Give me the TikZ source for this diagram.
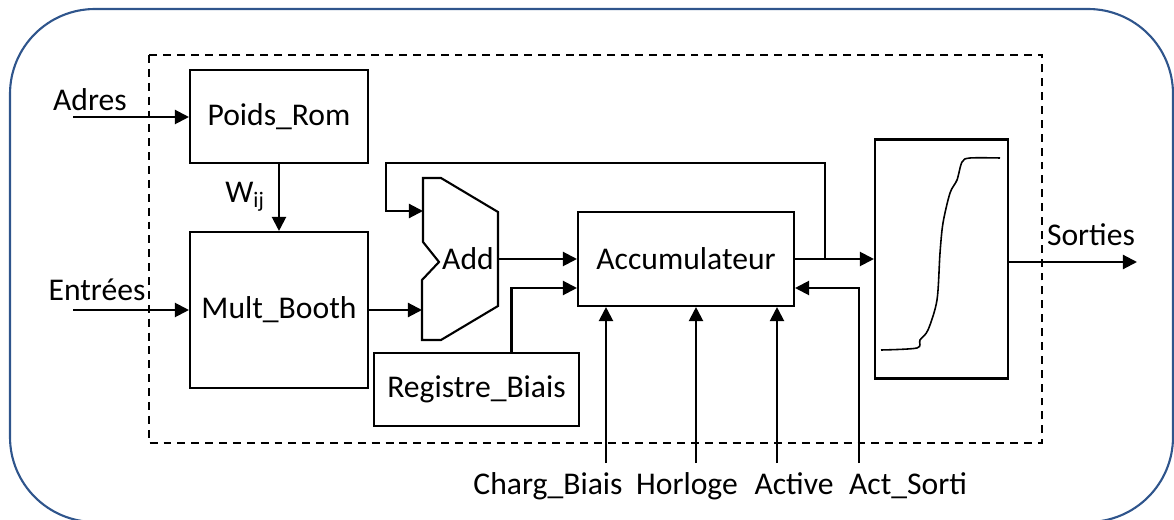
\documentclass[tikz,border=0pt]{standalone}
\usepackage{fontspec}
\setmainfont{Carlito}
\usetikzlibrary{arrows.meta}
\usetikzlibrary{calc,positioning}

\definecolor{framecol}{RGB}{47,85,140}

\begin{document}
\begin{tikzpicture}[x=0.02cm, y=-0.02cm, >={Triangle[length=8pt,width=8pt]},
    every node/.style={font=\fontsize{18}{21}\selectfont},
    blk/.style={draw, line width=1.2pt, inner sep=0pt},
    wire/.style={line width=1.2pt},
    sigline/.style={anchor=base}]

    \useasboundingbox (0,0) rectangle (1174,520);

    % outer frame and neuron boundary
    \draw[framecol, line width=1.2pt, rounded corners=1.7cm] (10,9) rectangle (1173,522);
    \draw[dashed, line width=1pt, dash pattern=on 4.5pt off 3.4pt] (149,55) rectangle (1042,443);

    % blocks
    \node[blk, minimum width=3.56cm, minimum height=1.86cm] (rom) at (279,116.5) {Poids\_Rom};
    \node[blk, minimum width=3.56cm, minimum height=3.12cm] (mult) at (279,310) {Mult\_Booth};
    \node[blk, minimum width=4.1cm, minimum height=1.46cm] (biais) at (476.5,389.5) {Registre\_Biais};
    \node[blk, minimum width=4.32cm, minimum height=1.88cm] (acc) at (686,259) {Accumulateur};
    \node[blk, minimum width=2.66cm, minimum height=4.78cm] (sig) at (941.5,259) {};

    % adder
    \draw[wire, line join=miter] (423,178) -- (441,178) -- (498,212) -- (498,306) -- (441,340) -- (422,340)
        -- (422,280) -- (439,262) -- (423,242) -- cycle;
    \node (add) at (468,259) {Add};
    \coordinate (addin1) at (423,211);
    \coordinate (addin2) at (422,310);
    \coordinate (addout) at (498,259);

    % activation curve
    \draw[line width=0.9pt] plot[smooth] coordinates {(881,350) (917,348) (920,340) (928,330) (937,300)
        (940,253) (943,223) (950,193) (957,180) (962,162) (970,158) (1000,158)};

    % inputs and outputs
    \coordinate (adres) at (73,117);
    \coordinate (entr) at (73,310);
    \coordinate (loop) at (386,163);
    \coordinate (fb) at (825,259);
    \coordinate (out) at (1137,262);
    \coordinate (cb) at (606,463);
    \coordinate (hor) at (696,463);
    \coordinate (act) at (777,463);
    \coordinate (acs) at (859,463);

    \node (adreslbl) at (90,100) {Adres};
    \node (entrlbl) at (97,290) {Entrées};
    \node (wlbl) at (245,197) {W\textsubscript{ij}};
    \node (outlbl) at (1091,235) {Sorties};
    \node[sigline] (cblbl) at (548,494) {Charg\_Biais};
    \node[sigline] (horlbl) at (687,494) {Horloge};
    \node[sigline] (actlbl) at (794,494) {Active};
    \node[sigline] (acslbl) at (908,494) {Act\_Sorti};

    \draw[wire, ->] (adres) -- (adres -| rom.west);
    \draw[wire, ->] (rom) -- (mult);
    \draw[wire, ->] (entr) -- (entr -| mult.west);
    \draw[wire, ->] (mult.east) -- (addin2);
    \draw[wire, ->] (fb) |- (loop) |- (addin1);
    \draw[wire, ->] (addout) -- (addout -| acc.west);
    \draw[wire, ->] ($(biais.north)+(35,0)$) |- ($(acc.west)+(0,29)$);
    \draw[wire, ->] (acc.east) -- (sig.west);
    \draw[wire, ->] (sig.east |- out) -- (out);
    \draw[wire, ->] (cb) -- (cb |- acc.south);
    \draw[wire, ->] (hor) -- (hor |- acc.south);
    \draw[wire, ->] (act) -- (act |- acc.south);
    \draw[wire, ->] (acs) |- ($(acc.east)+(0,29)$);

\end{tikzpicture}
\end{document}
